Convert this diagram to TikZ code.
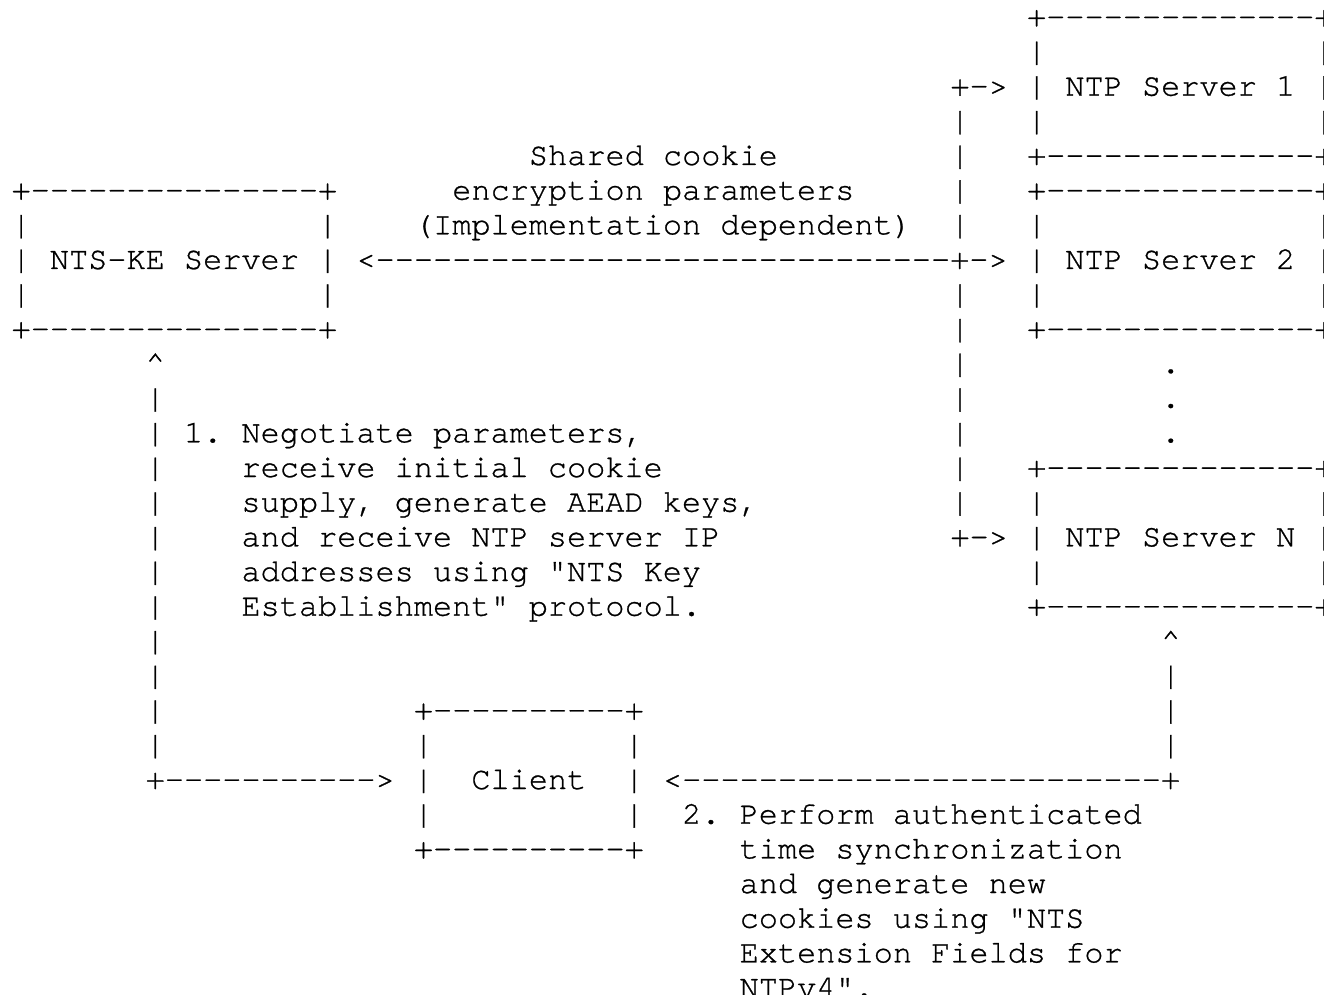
\documentclass[tikz,border=0pt]{standalone}
\usepackage{fontspec}
\setmonofont{TeX Gyre Cursor}[FakeBold=0.8]
\tikzset{
  asciirow/.style={inner sep=0pt, outer sep=0pt, anchor=base west,
    font=\ttfamily\frenchspacing\fontsize{15.96pt}{17.3pt}\selectfont}
}
% name, column, first row, lines
\newcommand\asc[4]{%
  \foreach \rowtext [count=\i from 0] in {#4}
    \node[asciirow] (#1-\i) at ({11.6+19.16*#2},{26.3+34.67*(#3+\i)}) {\rowtext};%
}
\begin{document}
\begin{tikzpicture}[x=0.5pt,y=-0.5pt]
\fill[white] (0,0) rectangle (1324,995);
\useasboundingbox (0,0) rectangle (1324,995);
\asc{ntpone}{53}{0}{+--------------+,|~~~~~~~~~~~~~~|,| NTP Server 1 |,|~~~~~~~~~~~~~~|,+--------------+}
\asc{ntptwo}{53}{5}{+--------------+,|~~~~~~~~~~~~~~|,| NTP Server 2 |,|~~~~~~~~~~~~~~|,+--------------+}
\asc{dots}{60}{10}{.,.,.}
\asc{ntpn}{53}{13}{+--------------+,|~~~~~~~~~~~~~~|,| NTP Server N |,|~~~~~~~~~~~~~~|,+--------------+}
\asc{fanup}{49}{2}{+->,|,|,|,|}
\asc{fandown}{49}{8}{|,|,|,|,|,|,|,+->}
\asc{share}{18}{7}{<------------------------------+->}
\asc{cookieA}{27}{4}{Shared cookie}
\asc{cookieB}{23}{5}{encryption parameters}
\asc{cookieC}{21}{6}{(Implementation dependent)}
\asc{ke}{0}{5}{+---------------+,|~~~~~~~~~~~~~~~|,| NTS-KE Server |,|~~~~~~~~~~~~~~~|,+---------------+}
\asc{kepath}{7}{10}{\textasciicircum,|,|,|,|,|,|,|,|,|,|,|,+----------->}
\asc{stepone}{9}{12}{{1. Negotiate parameters,},~~~receive initial cookie,{~~~supply, generate AEAD keys,},~~~and receive NTP server IP,~~~addresses using "NTS Key,~~~Establishment" protocol.}
\asc{client}{21}{20}{+----------+,|~~~~~~~~~~|,|~~Client~~|,|~~~~~~~~~~|,+----------+}
\asc{ntppath}{60}{18}{\textasciicircum,|,|,|}
\asc{sync}{34}{22}{<-------------------------+}
\asc{steptwo}{35}{23}{2. Perform authenticated,~~~time synchronization,~~~and generate new,~~~cookies using "NTS,~~~Extension Fields for,~~~NTPv4".}
\end{tikzpicture}
\end{document}
